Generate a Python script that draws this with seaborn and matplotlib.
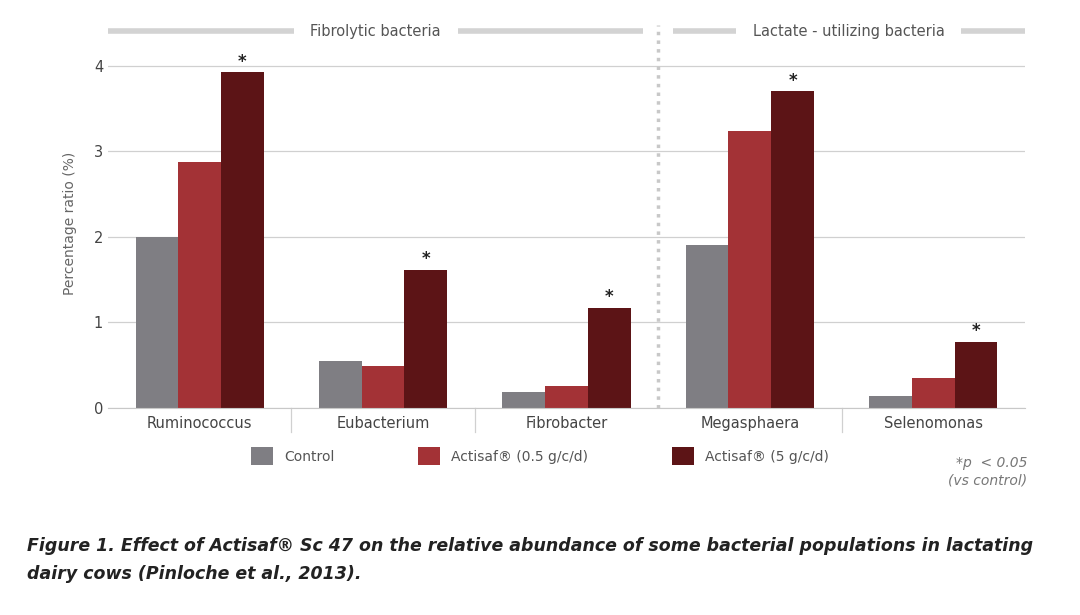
import pandas as pd
import matplotlib.pyplot as plt
import seaborn as sns
from matplotlib.patches import Patch

# datos
bacterias = ["Ruminococcus", "Eubacterium", "Fibrobacter", "Megasphaera", "Selenomonas"]
grupos = ["Control", "Actisaf® (0.5 g/c/d)", "Actisaf® (5 g/c/d)"]
control = [2.00, 0.55, 0.18, 1.90, 0.14]
actisaf_05 = [2.87, 0.49, 0.25, 3.24, 0.35]
actisaf_5 = [3.92, 1.61, 1.17, 3.70, 0.77]
colores = ["#7f7e83", "#a33236", "#5c1416"]

filas = []
for i, b in enumerate(bacterias):
    for g, v in zip(grupos, [control[i], actisaf_05[i], actisaf_5[i]]):
        filas.append({"bacteria": b, "grupo": g, "valor": v})
df = pd.DataFrame(filas)

fig = plt.figure(figsize=(10.8, 6.15), dpi=100)
ax = fig.add_axes([0.1, 0.337, 0.849, 0.598])
sns.barplot(data=df, x="bacteria", y="valor", hue="grupo", palette=colores,
            width=0.7, saturation=1, ax=ax, legend=False)

ax.set_ylim(0, 4.3)
ax.set_xlim(-0.5, 4.5)
ax.set_yticks([0, 1, 2, 3, 4])
ax.yaxis.grid(True, color="#d0d0d0", lw=0.9)
ax.set_axisbelow(True)
for s in ["top", "right", "left"]:
    ax.spines[s].set_visible(False)
ax.spines["bottom"].set_color("#c8c8c8")
ax.tick_params(axis="both", length=0, labelsize=10.5, colors="#444444")
ax.tick_params(axis="x", pad=6)
ax.set_xlabel("")
ax.set_ylabel("Percentage ratio (%)", fontsize=10, color="#666666", labelpad=12)

# separadores entre categorias
for xb in [0.5, 1.5, 3.5]:
    ax.plot([xb, xb], [0, -0.28], color="#d0d0d0", lw=0.9, clip_on=False)

# linea divisoria punteada
ax.plot([2.5, 2.5], [0, 4.48], color="#c8c8c8", lw=2.5, ls=(0, (1, 1.5)), clip_on=False)

# estrellas
for i, v in enumerate(actisaf_5):
    ax.text(i + 0.233, v + 0.02, "*", ha="center", va="bottom", fontsize=12, fontweight="bold", color="#222222")

# encabezados
for x0, x1, txt in [(-0.5, 2.42, "Fibrolytic bacteria"), (2.58, 4.5, "Lactate - utilizing bacteria")]:
    ax.plot([x0, x1], [4.4, 4.4], color="#d3d3d3", lw=4, clip_on=False, solid_capstyle="butt")
    ax.text((x0 + x1) / 2, 4.4, txt, ha="center", va="center", fontsize=10.5, color="#555555",
            bbox=dict(facecolor="white", edgecolor="none", pad=12))

handles = [Patch(facecolor=c) for c in colores]
fig.legend(handles, grupos, loc="center", bbox_to_anchor=(0.5, 0.258), ncol=3, frameon=False,
           fontsize=10, handlelength=1.6, handleheight=1.6, columnspacing=6, labelcolor="#555555")

fig.text(0.951, 0.233, "*p  < 0.05\n(vs control)", ha="right", va="center", fontsize=10,
         style="italic", color="#777777", linespacing=1.4)
fig.text(0.025, 0.09, "Figure 1. Effect of Actisaf® Sc 47 on the relative abundance of some bacterial populations in lactating\ndairy cows (Pinloche et al., 2013).",
         ha="left", va="center", fontsize=12.5, fontweight="bold", style="italic", color="#222222", linespacing=1.7)

fig.savefig("out.png", dpi=100)
